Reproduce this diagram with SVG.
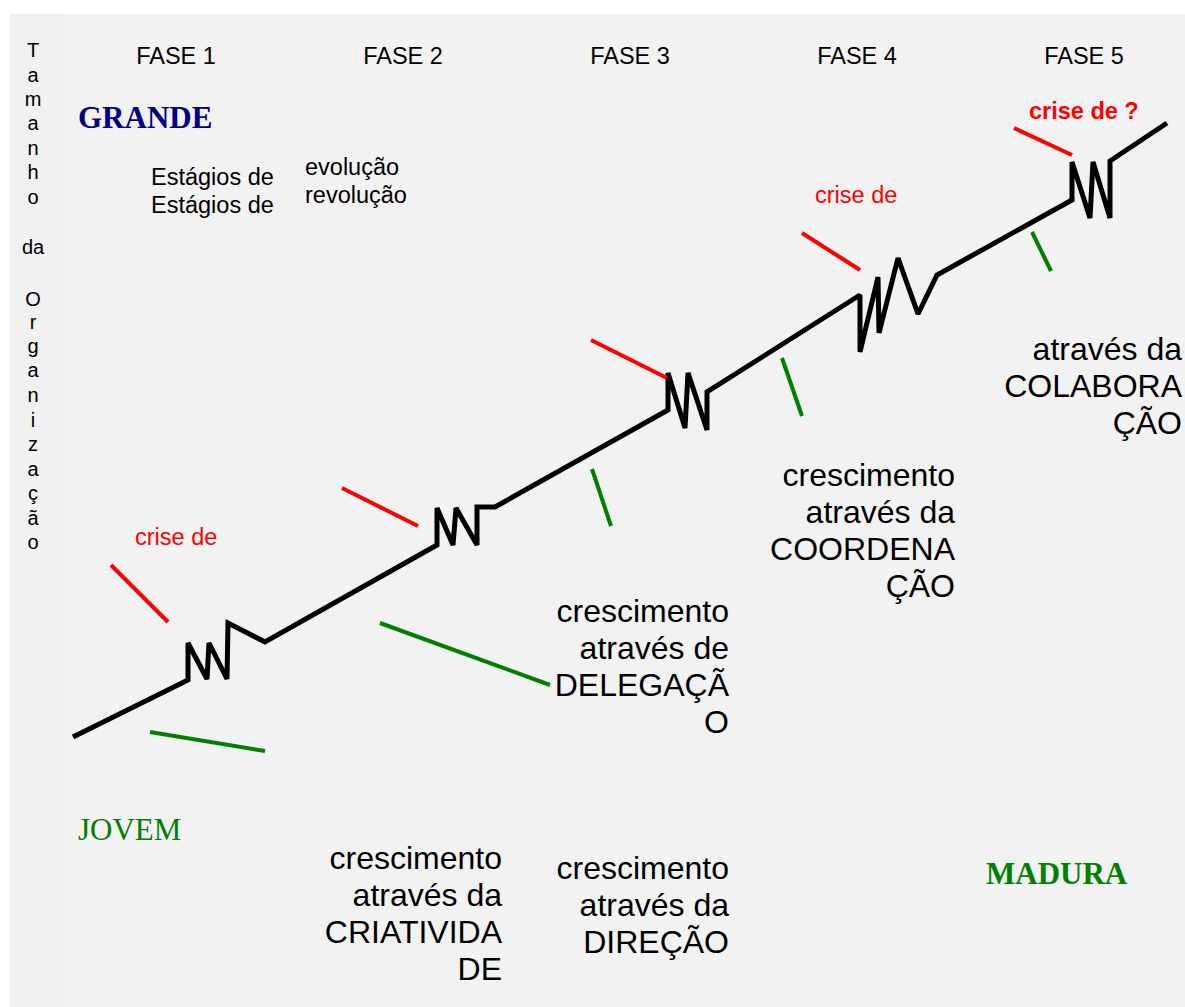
<svg xmlns="http://www.w3.org/2000/svg" width="1185" height="1007" viewBox="0 0 1185 1007">
  <style>
    .sans { font-family: "Liberation Sans", Arial, sans-serif; fill: #000; }
    .phase { font-size: 23.5px; text-anchor: middle; }
    .axis { font-size: 20px; text-anchor: middle; }
    .small { font-size: 23.5px; }
    .big { font-size: 32px; text-anchor: end; }
    .crisis { fill: #ff0000; }
    .serif { font-family: "Liberation Serif", "Times New Roman", serif; font-size: 31px; }
    .curve { fill: none; stroke: #000; stroke-width: 5; stroke-linejoin: miter; stroke-miterlimit: 2; }
    .red { stroke: #ff0000; stroke-width: 4; }
    .green { stroke: #008000; stroke-width: 4; }
  </style>

  <!-- background panel -->
  <rect x="10" y="14" width="1175" height="993" fill="#f2f2f2"/>
  <rect x="10" y="14" width="52" height="993" fill="#f1f1f1"/>

  <!-- vertical axis label -->
  <g id="axis-label" class="sans axis">
    <text x="33" y="57">T</text>
    <text x="33" y="82">a</text>
    <text x="33" y="106">m</text>
    <text x="33" y="130">a</text>
    <text x="33" y="155">n</text>
    <text x="33" y="179">h</text>
    <text x="33" y="204">o</text>
    <text x="33" y="254">da</text>
    <text x="33" y="306">O</text>
    <text x="33" y="329">r</text>
    <text x="33" y="353">g</text>
    <text x="33" y="377">a</text>
    <text x="33" y="402">n</text>
    <text x="33" y="427">i</text>
    <text x="33" y="451">z</text>
    <text x="33" y="476">a</text>
    <text x="33" y="500">ç</text>
    <text x="33" y="525">ã</text>
    <text x="33" y="549">o</text>
  </g>

  <!-- phase headings -->
  <g id="phases" class="sans phase">
    <text x="176" y="64">FASE 1</text>
    <text x="403" y="64">FASE 2</text>
    <text x="630" y="64">FASE 3</text>
    <text x="857" y="64">FASE 4</text>
    <text x="1084" y="64">FASE 5</text>
  </g>

  <!-- size labels -->
  <g id="size-grande"><text class="serif" x="78" y="128" font-weight="bold" fill="#000080">GRANDE</text></g>
  <g id="size-jovem"><text class="serif" x="78" y="840" fill="#008000">JOVEM</text></g>
  <g id="size-madura"><text class="serif" x="986" y="884" font-weight="bold" fill="#008000">MADURA</text></g>

  <!-- legend -->
  <g id="legend" class="sans small">
    <text x="151" y="185">Estágios de</text>
    <text x="151" y="213">Estágios de</text>
    <text x="305" y="175">evolução</text>
    <text x="305" y="203">revolução</text>
  </g>

  <!-- connectors: growth line with revolution zigzags and pointer ticks -->
  <g id="connectors">
    <polyline class="curve" points="73,737 188,680 188,643 207,679 209,643 227,679 228,623 265,642 437,545 437,508 453,545 456,508 477,545 477,507 495,507 668,410 668,373 685,428 688,373 707,430 707,392 860,295 860,352 878,277 879,333 898,258 918,314 937,275 1072,200 1072,162 1090,218 1093,162 1110,218 1110,161 1167,123"/>
    <line class="red" x1="111" y1="565" x2="168" y2="622"/>
    <line class="red" x1="342" y1="488" x2="418" y2="526"/>
    <line class="red" x1="591" y1="340" x2="667" y2="378"/>
    <line class="red" x1="802" y1="233" x2="860" y2="270"/>
    <line class="red" x1="1014" y1="128" x2="1072" y2="155"/>
    <line class="green" x1="150" y1="732" x2="265" y2="751"/>
    <line class="green" x1="380" y1="623" x2="550" y2="685"/>
    <line class="green" x1="592" y1="469" x2="611" y2="526"/>
    <line class="green" x1="782" y1="358" x2="802" y2="416"/>
    <line class="green" x1="1032" y1="232" x2="1051" y2="271"/>
  </g>

  <!-- crisis labels -->
  <g id="crisis-1"><text class="sans small crisis" x="135" y="545">crise de</text></g>
  <g id="crisis-4"><text class="sans small crisis" x="815" y="203">crise de</text></g>
  <g id="crisis-5"><text class="sans small crisis" x="1029" y="119" font-weight="bold">crise de ?</text></g>

  <!-- growth labels -->
  <g id="growth-1" class="sans big">
    <text x="502" y="869">crescimento</text>
    <text x="502" y="906">através da</text>
    <text x="502" y="943">CRIATIVIDA</text>
    <text x="502" y="980">DE</text>
  </g>
  <g id="growth-2" class="sans big">
    <text x="729" y="879">crescimento</text>
    <text x="729" y="916">através da</text>
    <text x="729" y="953">DIREÇÃO</text>
  </g>
  <g id="growth-3" class="sans big">
    <text x="729" y="622">crescimento</text>
    <text x="729" y="659">através de</text>
    <text x="729" y="696">DELEGAÇÃ</text>
    <text x="729" y="733">O</text>
  </g>
  <g id="growth-4" class="sans big">
    <text x="955" y="486">crescimento</text>
    <text x="955" y="523">através da</text>
    <text x="955" y="560">COORDENA</text>
    <text x="955" y="597">ÇÃO</text>
  </g>
  <g id="growth-5" class="sans big">
    <text x="1182" y="360">através da</text>
    <text x="1182" y="397">COLABORA</text>
    <text x="1182" y="434">ÇÃO</text>
  </g>
</svg>
